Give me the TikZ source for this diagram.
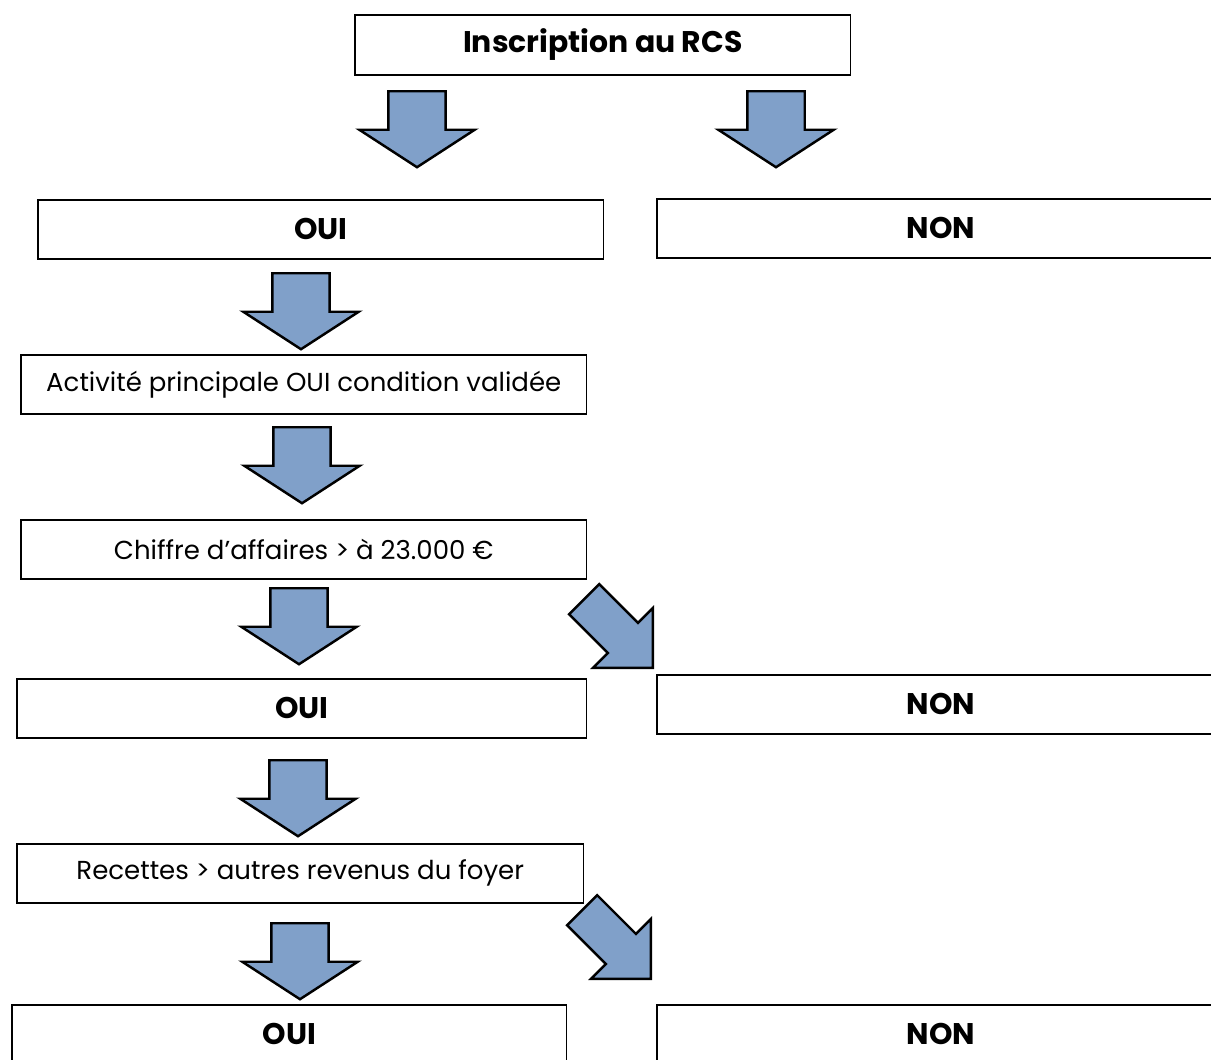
\documentclass[tikz,border=0pt]{standalone}
\usepackage{fontspec}
\setmainfont{Poppins}
\usetikzlibrary{shapes.arrows}
\definecolor{arrowblue}{RGB}{128,160,201}
\begin{document}
\begin{tikzpicture}[x=0.02cm,y=-0.02cm]
        % Styles
        \tikzstyle{box}=[draw,line width=0.9pt,inner sep=0pt,anchor=north west,minimum height=1.18cm,font=\fontsize{14.8}{17}\selectfont]
        \tikzstyle{title box}=[box,font=\fontsize{17}{19}\selectfont\bfseries]
        \tikzstyle{down arrow}=[single arrow,draw,fill=arrowblue,line width=1.4pt,inner xsep=0pt,inner ysep=0.55cm,
            minimum height=1.52cm,single arrow head extend=0.58cm,single arrow tip angle=114,
            rotate=-90,anchor=tail]
        \tikzstyle{side arrow}=[single arrow,draw,fill=arrowblue,line width=1.4pt,inner xsep=0pt,inner ysep=0.4cm,
            minimum height=1.94cm,single arrow head extend=0.42cm,single arrow tip angle=90,
            rotate=-45,anchor=tip]
        \useasboundingbox (0,0) rectangle (1211,1059);
        %The graphic
        %boxes
        \node[title box,minimum width=9.92cm,minimum height=1.2cm] (rcs) at (354,14) {Inscription au RCS};
        \node[title box,minimum width=11.32cm] (oui1) at (37,199) {OUI};
        \node[title box,minimum width=11.36cm] (non1) at (656,198) {NON};
        \node[box,minimum width=11.32cm] (activite) at (20,354) {Activité principale OUI condition validée};
        \node[box,minimum width=11.32cm] (ca) at (20,519) {Chiffre d’affaires > à 23.000 €};
        \node[title box,minimum width=11.4cm] (oui2) at (16,678) {OUI};
        \node[title box,minimum width=11.36cm] (non2) at (656,674) {NON};
        \node[box,minimum width=11.34cm] (recettes) at (16,843) {Recettes > autres revenus du foyer};
        \node[title box,minimum width=11.1cm] (oui3) at (11,1004) {OUI};
        \node[title box,minimum width=11.36cm] (non3) at (656,1004) {NON};
        %arrows
        \node[down arrow] (a1) at (417,90) {};
        \node[down arrow] (a2) at (776,90) {};
        \node[down arrow] (a3) at (301,272) {};
        \node[down arrow] (a4) at (302,426) {};
        \node[down arrow] (a5) at (299,587) {};
        \node[side arrow] (d1) at (654,669) {};
        \node[down arrow] (a6) at (298,759) {};
        \node[down arrow] (a7) at (300,922) {};
        \node[side arrow] (d2) at (652,980) {};
\end{tikzpicture}
\end{document}
